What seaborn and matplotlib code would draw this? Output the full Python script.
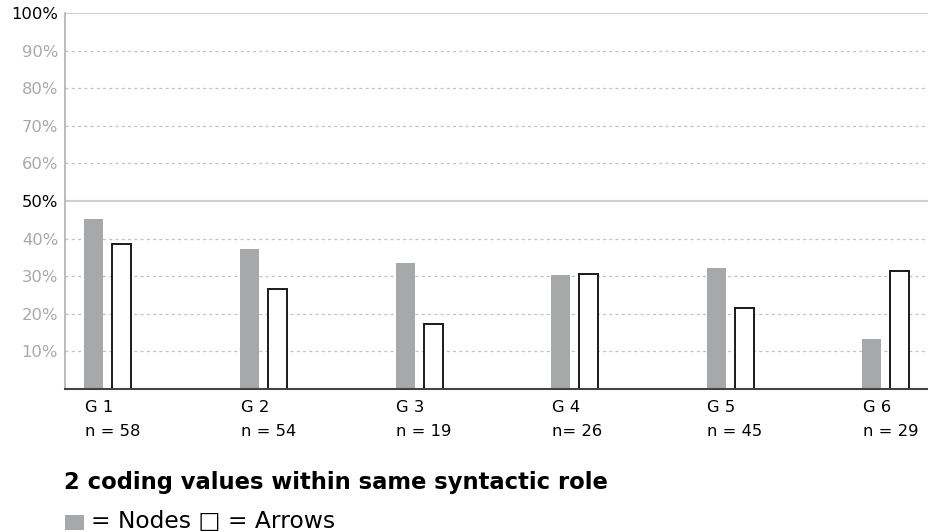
import numpy as np
import pandas as pd
import matplotlib.pyplot as plt
import seaborn as sns
from matplotlib.patches import Rectangle

# values (percent)
groups = ['G 1', 'G 2', 'G 3', 'G 4', 'G 5', 'G 6']
n_labels = ['n = 58', 'n = 54', 'n = 19', 'n= 26', 'n = 45', 'n = 29']
nodes = [45.3, 37.3, 33.4, 30.2, 32.3, 13.3]
arrows = [38.6, 26.5, 17.4, 30.5, 21.6, 31.5]
y_ticks = [10, 20, 30, 40, 50, 60, 70, 80, 90, 100]

df = pd.DataFrame({
    'group': groups * 2,
    'share': nodes + arrows,
    'kind': ['Nodes'] * len(groups) + ['Arrows'] * len(groups),
})

sns.set_style('white')
plt.rcParams['font.family'] = ['DejaVu Sans']
plt.rcParams['text.color'] = 'black'
plt.rcParams['xtick.color'] = 'black'

fig = plt.figure(figsize=(9.29, 5.32), dpi=100)
ax = fig.add_axes([65 / 929, 1 - 389 / 532, 864 / 929, 376 / 532])

sns.barplot(data=df, x='group', y='share', hue='kind', order=groups,
            hue_order=['Nodes', 'Arrows'],
            palette={'Nodes': '#a7a8aa', 'Arrows': 'white'},
            width=0.36, gap=0.32, legend=False, ax=ax, zorder=3)

for bar in ax.containers[0]:
    bar.set_edgecolor('none')
for bar in ax.containers[1]:
    bar.set_edgecolor('#1a1a1a')
    bar.set_linewidth(1.4)

ax.set_ylim(0, 100)
ax.set_xlim(-0.276, 5.277)

# grid lines: solid at 50 and 100, dashed elsewhere
for v in y_ticks:
    if v in (50, 100):
        ax.axhline(v, color='#cfcfcf', lw=1.5, zorder=1)
    else:
        ax.axhline(v, color='#c4c4c4', lw=0.9, ls=(0, (2.5, 2.5)), zorder=1)

ax.set_yticks(y_ticks)
ax.set_yticklabels([f'{v}%' for v in y_ticks], fontsize=11.8)
for lab, v in zip(ax.get_yticklabels(), y_ticks):
    lab.set_color('black' if v in (50, 100) else '#a9a9a9')
ax.tick_params(axis='y', length=0, pad=5)

# x labels left-aligned to the grey bar
ax.set_xticks(np.arange(len(groups)) - 0.148)
ax.set_xticklabels([f'{g}\n{n}' for g, n in zip(groups, n_labels)],
                   fontsize=11.8, ha='left', color='black')
for lab in ax.get_xticklabels():
    lab.set_linespacing(1.75)
ax.tick_params(axis='x', length=0, pad=8)

ax.set_xlabel('')
ax.set_ylabel('')
for s in ['top', 'right']:
    ax.spines[s].set_visible(False)
ax.spines['left'].set_color('#b0b0b0')
ax.spines['left'].set_linewidth(1.2)
ax.spines['bottom'].set_color('#444444')
ax.spines['bottom'].set_linewidth(1.5)
ax.spines['bottom'].set_zorder(4)

fig.text(64 / 929, 1 - 489 / 532, '2 coding values within same syntactic role',
         fontsize=16.3, fontweight='bold', ha='left', va='baseline',
         color='black')
fig.add_artist(Rectangle((65 / 929, 1 - 530 / 532), 19 / 929, 15 / 532,
                         transform=fig.transFigure, color='#a7a8aa', lw=0))
fig.text(91 / 929, 1 - 528 / 532, '= Nodes \u25a1 = Arrows',
         fontsize=16.8, ha='left', va='baseline', color='black')

fig.savefig('out.png', dpi=100)
